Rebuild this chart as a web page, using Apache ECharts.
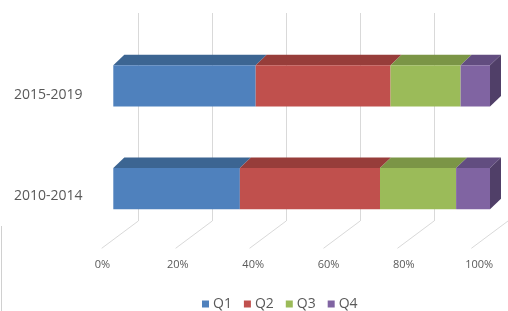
<!DOCTYPE html>
<html>
<head>
<meta charset="utf-8">
<script src="https://cdn.jsdelivr.net/npm/echarts@6/dist/echarts.min.js"></script>
<style>html,body{margin:0;padding:0;background:#fff;}#c{width:508px;height:311px;}</style>
</head>
<body>
<div id="c"></div>
<script>
const categories = ['2010-2014', '2015-2019'];
const seriesNames = ['Q1', 'Q2', 'Q3', 'Q4'];
const q1 = [33.6, 37.8];
const q2 = [37.2, 35.8];
const q3 = [20.2, 18.6];
const q4 = [9.0, 7.8];
const tickValues = [0, 20, 40, 60, 80, 100];
const tickLabels = ['0%', '20%', '40%', '60%', '80%', '100%'];

const values = [q1, q2, q3, q4];
const frontColors = ['#4F81BD', '#C0504D', '#9BBB59', '#8064A2'];
const topColors = ['#3C6592', '#973D3A', '#7B9546', '#624D80'];
const sideColor = '#503F68';
const DX = 11, DY = -10.5;      // bar depth offset
const FX = -36.6, FY = 27.3;    // floor depth (back -> front)

const chart = echarts.init(document.getElementById('c'), null, {renderer: 'canvas'});

const stacks = categories.map(() => 0);
const barSeries = values.map((arr, si) => {
  const data = arr.map((v, ci) => {
    const s = stacks[ci];
    stacks[ci] += v;
    return [s, s + v, ci];
  });
  return {
    type: 'custom',
    name: seriesNames[si],
    xAxisIndex: 0, yAxisIndex: 0,
    z: 10 + si,
    itemStyle: {color: frontColors[si]},
    encode: {x: [0, 1], y: 2},
    data: data,
    renderItem: function (params, api) {
      const p0 = api.coord([api.value(0), api.value(2)]);
      const p1 = api.coord([api.value(1), api.value(2)]);
      const h = api.size([0, 1])[1] * 0.4;
      const x = p0[0], w = p1[0] - p0[0], y = p0[1] - h / 2;
      const children = [
        {type: 'polygon', shape: {points: [[x, y], [x + DX, y + DY], [x + w + DX, y + DY], [x + w, y]]},
         style: {fill: topColors[si]}},
        {type: 'rect', shape: {x: x, y: y, width: w, height: h}, style: {fill: frontColors[si]}}
      ];
      if (si === values.length - 1) {
        children.push({type: 'polygon', shape: {points: [[x + w, y], [x + w + DX, y + DY], [x + w + DX, y + h + DY], [x + w, y + h]]},
          style: {fill: sideColor}});
      }
      return {type: 'group', children: children};
    }
  };
});

const floorSeries = {
  type: 'custom',
  xAxisIndex: 1, yAxisIndex: 1,
  z: 1,
  silent: true,
  data: tickValues.map(v => [v, 0]),
  renderItem: function (params, api) {
    const p = api.coord([api.value(0), 0]);
    return {type: 'line', shape: {x1: p[0], y1: p[1], x2: p[0] + FX, y2: p[1] + FY},
      style: {stroke: '#d9d9d9', lineWidth: 1}};
  }
};

const option = {
  animation: false,
  backgroundColor: '#ffffff',
  grid: [
    {left: 113.3, width: 376.7, top: 34.35, height: 205.8},
    {left: 138.3, width: 376.7, top: 13, height: 208},
    {left: 102.5, width: 376.7, top: 44.5, height: 202}
  ],
  xAxis: [
    {gridIndex: 0, type: 'value', min: 0, max: 100, interval: 20, show: false},
    {gridIndex: 1, type: 'value', min: 0, max: 100, interval: 20,
     axisLine: {show: false}, axisTick: {show: false}, axisLabel: {show: false},
     splitLine: {show: true, lineStyle: {color: '#d9d9d9', width: 1}}},
    {gridIndex: 2, type: 'value', min: 0, max: 100, interval: 20,
     axisLine: {show: false}, axisTick: {show: false}, splitLine: {show: false},
     axisLabel: {margin: 13, color: '#595959', fontFamily: 'Open Sans', fontSize: 11,
       formatter: function (v) { return tickLabels[tickValues.indexOf(v)]; }}}
  ],
  yAxis: [
    {gridIndex: 0, type: 'category', data: categories, show: false},
    {gridIndex: 1, type: 'value', min: 0, max: 1, show: false},
    {gridIndex: 2, type: 'category', data: categories,
     axisLine: {show: false}, axisTick: {show: false}, splitLine: {show: false},
     axisLabel: {margin: 20, color: '#595959', fontFamily: 'Open Sans', fontSize: 14}}
  ],
  legend: {
    data: seriesNames.map((n, i) => ({name: n, icon: 'rect', itemStyle: {color: frontColors[i]}})),
    left: 197, top: 292, itemWidth: 7, itemHeight: 7, itemGap: 12,
    textStyle: {color: '#595959', fontFamily: 'Open Sans', fontSize: 14, padding: [0, 0, 0, -1]}
  },
  graphic: [
    {type: 'line', shape: {x1: 1.5, y1: 226, x2: 1.5, y2: 311}, style: {stroke: '#d0d0d0', lineWidth: 1}, silent: true}
  ],
  series: [floorSeries].concat(barSeries)
};
chart.setOption(option);
</script>
</body>
</html>
